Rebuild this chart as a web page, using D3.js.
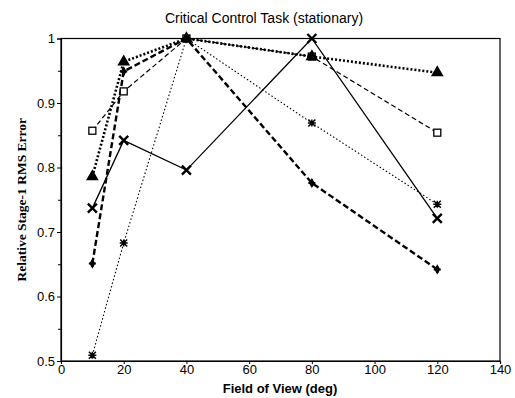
<!DOCTYPE html>
<html>
<head>
<meta charset="utf-8">
<script src="https://cdn.jsdelivr.net/npm/d3@7"></script>
<style>
  html, body { margin: 0; padding: 0; background: #fff; }
  svg { display: block; }
</style>
</head>
<body>
<svg id="chart" width="515" height="398"></svg>
<script>
// Field of view settings (deg)
const fov = [10, 20, 40, 80, 120];

// Relative stage-1 RMS error for each condition
const triangleSeries = [0.786, 0.964, 1.0, 0.972, 0.947];
const squareSeries   = [0.857, 0.918, 1.0, 0.972, 0.854];
const crossSeries    = [0.737, 0.842, 0.796, 1.0, 0.721];
const plusSeries     = [0.651, 0.949, 1.0, 0.776, 0.642];
const starSeries     = [0.509, 0.683, 1.0, 0.869, 0.743];

const xTicks = [0, 20, 40, 60, 80, 100, 120, 140];
const yTicks = [0.5, 0.6, 0.7, 0.8, 0.9, 1];
const yMinorTicks = [0.55, 0.65, 0.75, 0.85, 0.95];

const svg = d3.select("#chart");
const plotLeft = 61, plotRight = 500, plotTop = 38.5, plotBottom = 361;

const x = d3.scaleLinear().domain([0, 140]).range([plotLeft, plotRight]);
const y = d3.scaleLinear().domain([0.5, 1]).range([plotBottom, plotTop]);

// Title
svg.append("text")
  .attr("x", 264).attr("y", 23)
  .attr("text-anchor", "middle")
  .attr("font-family", "'Liberation Sans', Arial, sans-serif")
  .attr("font-size", 14)
  .text("Critical Control Task (stationary)");

// Frame
svg.append("rect")
  .attr("x", plotLeft).attr("y", plotTop)
  .attr("width", plotRight - plotLeft).attr("height", plotBottom - plotTop)
  .attr("fill", "none").attr("stroke", "#000").attr("stroke-width", 1.2);

// Axes
const xAxis = d3.axisBottom(x).tickValues(xTicks).tickSize(3).tickPadding(1).tickFormat(d3.format("d"));
const gx = svg.append("g").attr("transform", `translate(0,${plotBottom})`).call(xAxis);
const yAxis = d3.axisLeft(y).tickValues(yTicks).tickSize(4).tickPadding(2)
  .tickFormat(d => d === 1 ? "1" : d3.format(".1f")(d));
const gy = svg.append("g").attr("transform", `translate(${plotLeft},0)`).call(yAxis);
svg.append("g").attr("transform", `translate(${plotLeft},0)`)
  .call(d3.axisLeft(y).tickValues(yMinorTicks).tickSize(3).tickFormat(""))
  .call(g => g.select(".domain").remove());

[gx, gy].forEach(g => {
  g.select(".domain").attr("stroke-width", 1.2);
  g.selectAll("text")
    .attr("font-family", "'Liberation Sans', Arial, sans-serif")
    .attr("font-size", 13).attr("fill", "#000");
});
svg.selectAll(".tick line").attr("stroke", "#000");

// Axis titles
svg.append("text")
  .attr("x", 280).attr("y", 393)
  .attr("text-anchor", "middle")
  .attr("font-family", "'Liberation Sans', Arial, sans-serif")
  .attr("font-weight", "bold").attr("font-size", 13)
  .text("Field of View (deg)");

svg.append("text")
  .attr("transform", `translate(26,${(plotTop + plotBottom) / 2}) rotate(-90)`)
  .attr("text-anchor", "middle")
  .attr("font-family", "'Liberation Serif', 'Times New Roman', serif")
  .attr("font-weight", "bold").attr("font-size", 13.5)
  .text("Relative Stage-1 RMS Error");

const line = d3.line().x((d, i) => x(fov[i])).y(d => y(d));

const series = [
  { values: starSeries,     width: 1.1, dash: "1.5,2.2", marker: "star" },
  { values: squareSeries,   width: 1.2, dash: "5,3",     marker: "square" },
  { values: crossSeries,    width: 1.3, dash: null,      marker: "cross" },
  { values: plusSeries,     width: 2.4, dash: "6,3",     marker: "plus" },
  { values: triangleSeries, width: 2.6, dash: "2,2",     marker: "triangle" }
];

const plot = svg.append("g");
series.forEach(s => {
  plot.append("path")
    .datum(s.values)
    .attr("d", line)
    .attr("fill", "none")
    .attr("stroke", "#000")
    .attr("stroke-width", s.width)
    .attr("stroke-dasharray", s.dash);
});

function drawMarker(g, type, cx, cy) {
  if (type === "triangle") {
    g.append("path")
      .attr("d", d3.symbol(d3.symbolTriangle, 70)())
      .attr("transform", `translate(${cx},${cy})`)
      .attr("fill", "#000");
  } else if (type === "square") {
    g.append("rect")
      .attr("x", cx - 3.5).attr("y", cy - 3.5)
      .attr("width", 7).attr("height", 7)
      .attr("fill", "#fff").attr("stroke", "#000").attr("stroke-width", 1.3);
  } else if (type === "cross") {
    const r = 4.5;
    g.append("path")
      .attr("d", `M${cx - r},${cy - r}L${cx + r},${cy + r}M${cx - r},${cy + r}L${cx + r},${cy - r}`)
      .attr("stroke", "#000").attr("stroke-width", 2.4);
  } else if (type === "plus") {
    g.append("path")
      .attr("d", d3.symbol(d3.symbolDiamond, 30)())
      .attr("transform", `translate(${cx},${cy})`)
      .attr("fill", "#000");
    g.append("path")
      .attr("d", `M${cx - 3.5},${cy}L${cx + 3.5},${cy}M${cx},${cy - 3.5}L${cx},${cy + 3.5}`)
      .attr("stroke", "#000").attr("stroke-width", 2);
  } else if (type === "star") {
    const r = 3.5;
    g.append("path")
      .attr("d", `M${cx - r},${cy - r}L${cx + r},${cy + r}M${cx - r},${cy + r}L${cx + r},${cy - r}M${cx - r - 0.5},${cy}L${cx + r + 0.5},${cy}M${cx},${cy - r}L${cx},${cy + r}`)
      .attr("stroke", "#000").attr("stroke-width", 1.5);
  }
}

series.forEach(s => {
  s.values.forEach((v, i) => drawMarker(plot, s.marker, x(fov[i]), y(v)));
});
</script>
</body>
</html>
